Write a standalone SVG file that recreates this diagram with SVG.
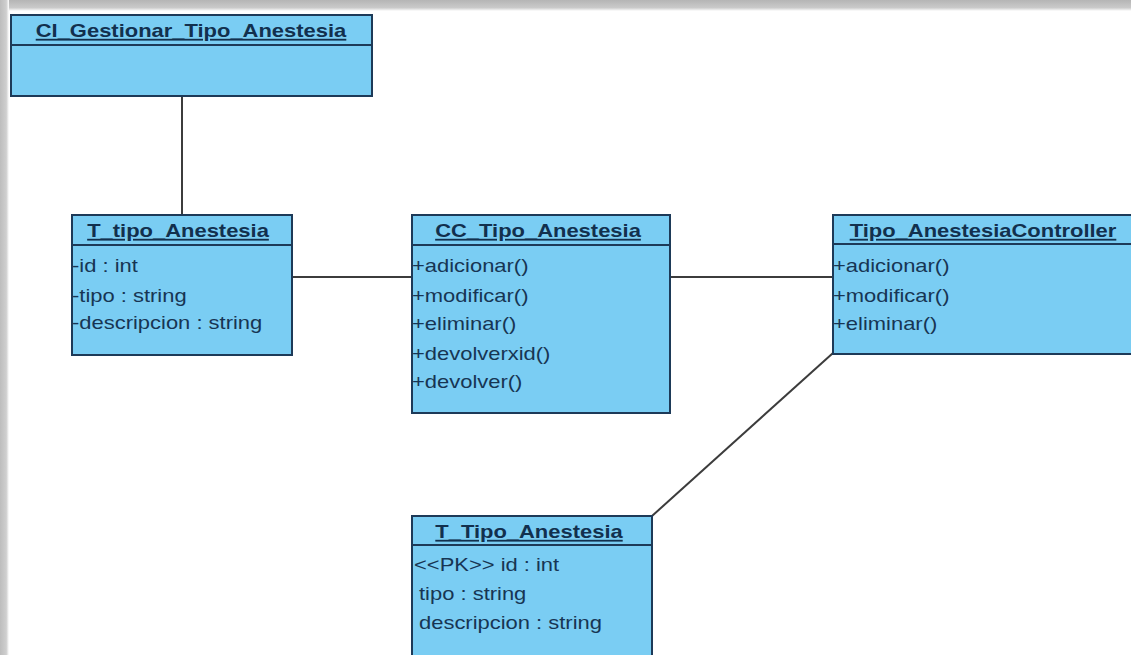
<svg xmlns="http://www.w3.org/2000/svg" width="1131" height="655" viewBox="0 0 1131 655">
  <style>
    .box { fill: #7acdf3; stroke: #1d3a58; stroke-width: 2; }
    .div { stroke: #1d3a58; stroke-width: 2; }
    .title { font-family: "Liberation Sans", Arial, sans-serif; font-size: 18px; font-weight: bold; fill: #12304e; text-anchor: middle; text-decoration: underline; }
    .item { font-family: "Liberation Sans", Arial, sans-serif; font-size: 18px; fill: #173553; }
    .link { stroke: #3c3c3c; stroke-width: 2; fill: none; }
  </style>
  <defs>
    <linearGradient id="topShade" x1="0" y1="0" x2="0" y2="1">
      <stop offset="0" stop-color="#b5b5b5"/>
      <stop offset="0.7" stop-color="#cacaca"/>
      <stop offset="1" stop-color="#ffffff"/>
    </linearGradient>
    <linearGradient id="leftShade" x1="0" y1="0" x2="1" y2="0">
      <stop offset="0" stop-color="#bdbdbd"/>
      <stop offset="0.7" stop-color="#cfcfcf"/>
      <stop offset="1" stop-color="#ffffff"/>
    </linearGradient>
  </defs>

  <rect x="0" y="0" width="1131" height="655" fill="#ffffff"/>
  <!-- frame shading along the top and left edges -->
  <rect x="0" y="0" width="1131" height="11" fill="url(#topShade)"/>
  <rect x="0" y="0" width="9" height="655" fill="url(#leftShade)"/>

  <!-- associations -->
  <g id="connectors">
    <line class="link" x1="182" y1="96" x2="182" y2="215"/>
    <line class="link" x1="292" y1="277" x2="412" y2="277"/>
    <line class="link" x1="670" y1="277" x2="833" y2="277"/>
    <line class="link" x1="833" y1="353" x2="652" y2="516"/>
  </g>

  <g id="CI_Gestionar_Tipo_Anestesia">
    <rect class="box" x="11" y="15" width="361" height="81"/>
    <line class="div" x1="11" y1="45" x2="372" y2="45"/>
    <text class="title" transform="translate(191,37) scale(1.22,1)">CI_Gestionar_Tipo_Anestesia</text>
  </g>

  <g id="T_tipo_Anestesia">
    <rect class="box" x="72" y="215" width="220" height="140"/>
    <line class="div" x1="72" y1="245" x2="292" y2="245"/>
    <text class="title" transform="translate(178,237) scale(1.22,1)">T_tipo_Anestesia</text>
    <text class="item" transform="translate(72,272) scale(1.22,1)">-id : int</text>
    <text class="item" transform="translate(72,302) scale(1.22,1)">-tipo : string</text>
    <text class="item" transform="translate(72,329) scale(1.22,1)">-descripcion : string</text>
  </g>

  <g id="CC_Tipo_Anestesia">
    <rect class="box" x="412" y="215" width="258" height="198"/>
    <line class="div" x1="412" y1="245" x2="670" y2="245"/>
    <text class="title" transform="translate(538,237) scale(1.22,1)">CC_Tipo_Anestesia</text>
    <text class="item" transform="translate(412,272) scale(1.22,1)">+adicionar()</text>
    <text class="item" transform="translate(412,302) scale(1.22,1)">+modificar()</text>
    <text class="item" transform="translate(412,330) scale(1.22,1)">+eliminar()</text>
    <text class="item" transform="translate(412,360) scale(1.22,1)">+devolverxid()</text>
    <text class="item" transform="translate(412,388) scale(1.22,1)">+devolver()</text>
  </g>

  <g id="Tipo_AnestesiaController">
    <rect class="box" x="833" y="215" width="310" height="139"/>
    <line class="div" x1="833" y1="244" x2="1143" y2="244"/>
    <text class="title" transform="translate(983,237) scale(1.22,1)">Tipo_AnestesiaController</text>
    <text class="item" transform="translate(833,272) scale(1.22,1)">+adicionar()</text>
    <text class="item" transform="translate(833,302) scale(1.22,1)">+modificar()</text>
    <text class="item" transform="translate(833,330) scale(1.22,1)">+eliminar()</text>
  </g>

  <g id="T_Tipo_Anestesia">
    <rect class="box" x="412" y="516" width="240" height="150"/>
    <line class="div" x1="412" y1="545" x2="652" y2="545"/>
    <text class="title" transform="translate(529,538) scale(1.22,1)">T_Tipo_Anestesia</text>
    <text class="item" transform="translate(414,571) scale(1.22,1)">&lt;&lt;PK&gt;&gt;  id : int</text>
    <text class="item" transform="translate(419,600) scale(1.22,1)">tipo : string</text>
    <text class="item" transform="translate(419,629) scale(1.22,1)">descripcion : string</text>
  </g>
</svg>
